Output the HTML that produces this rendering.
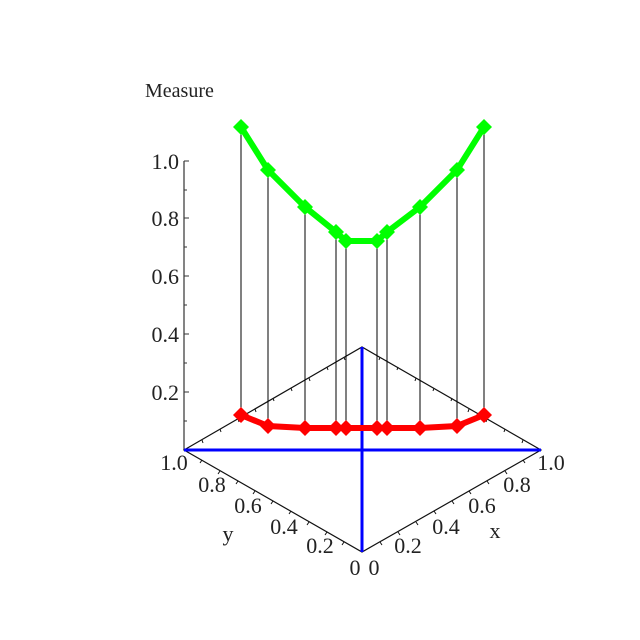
<!DOCTYPE html>
<html><head><style>body{margin:0;background:#fff}svg{display:block}</style></head>
<body>
<svg width="640" height="640" viewBox="0 0 640 640" font-family="'Liberation Serif','Times New Roman',Times,serif" font-size="22" fill="#222">
<line x1="184" y1="161" x2="184" y2="450" stroke="#333" stroke-width="1.2"/>
<g stroke="#333" stroke-width="1">
<line x1="184" y1="161" x2="189" y2="161"/><line x1="184" y1="190" x2="187" y2="190"/>
<line x1="184" y1="218" x2="189" y2="218"/><line x1="184" y1="247" x2="187" y2="247"/>
<line x1="184" y1="276" x2="189" y2="276"/><line x1="184" y1="305" x2="187" y2="305"/>
<line x1="184" y1="334" x2="189" y2="334"/><line x1="184" y1="363" x2="187" y2="363"/>
<line x1="184" y1="392" x2="189" y2="392"/><line x1="184" y1="421" x2="187" y2="421"/>
</g>
<g text-anchor="end" style="font-family:'Liberation Serif',serif">
<text x="179" y="169">1.0</text><text x="179" y="226">0.8</text><text x="179" y="284">0.6</text>
<text x="179" y="342">0.4</text><text x="179" y="400">0.2</text>
</g>
<text x="145" y="97" style="font-family:'Liberation Serif',serif;font-size:20px">Measure</text>
<polygon points="184,450 362,347 541,450 362,552" fill="none" stroke="#111" stroke-width="1.2"/>
<g stroke="#111" stroke-width="1">
<line x1="202" y1="440" x2="203" y2="443"/><line x1="220" y1="429" x2="221" y2="432"/><line x1="238" y1="419" x2="239" y2="422"/><line x1="255" y1="409" x2="256" y2="412"/><line x1="273" y1="398" x2="274" y2="401"/><line x1="291" y1="388" x2="292" y2="391"/><line x1="309" y1="378" x2="310" y2="381"/><line x1="327" y1="367" x2="328" y2="370"/><line x1="344" y1="357" x2="345" y2="360"/>
<line x1="380" y1="357" x2="379" y2="360"/><line x1="398" y1="367" x2="397" y2="370"/><line x1="416" y1="378" x2="415" y2="381"/><line x1="434" y1="388" x2="433" y2="391"/><line x1="452" y1="398" x2="451" y2="401"/><line x1="469" y1="409" x2="468" y2="412"/><line x1="487" y1="419" x2="486" y2="422"/><line x1="505" y1="429" x2="504" y2="432"/><line x1="523" y1="440" x2="522" y2="443"/>
<line x1="202" y1="460" x2="200" y2="463"/><line x1="220" y1="471" x2="218" y2="474"/><line x1="238" y1="481" x2="236" y2="484"/><line x1="255" y1="491" x2="253" y2="494"/><line x1="273" y1="501" x2="271" y2="504"/><line x1="291" y1="511" x2="289" y2="514"/><line x1="309" y1="522" x2="307" y2="525"/><line x1="327" y1="532" x2="325" y2="535"/><line x1="344" y1="542" x2="342" y2="545"/>
<line x1="380" y1="542" x2="382" y2="545"/><line x1="398" y1="532" x2="400" y2="535"/><line x1="416" y1="522" x2="418" y2="525"/><line x1="434" y1="511" x2="436" y2="514"/><line x1="452" y1="501" x2="454" y2="504"/><line x1="469" y1="491" x2="471" y2="494"/><line x1="487" y1="481" x2="489" y2="484"/><line x1="505" y1="471" x2="507" y2="474"/><line x1="523" y1="460" x2="525" y2="463"/>
</g>
<line x1="184" y1="450" x2="541" y2="450" stroke="#0000ff" stroke-width="3"/>
<line x1="362" y1="347" x2="362" y2="552" stroke="#0000ff" stroke-width="3"/>
<g text-anchor="middle" style="font-family:'Liberation Serif',serif">
<text x="174" y="470">1.0</text><text x="212" y="492">0.8</text><text x="248" y="513">0.6</text><text x="284" y="534">0.4</text><text x="320" y="553">0.2</text><text x="355" y="575">0</text>
<text x="374" y="575">0</text><text x="408" y="553">0.2</text><text x="446" y="534">0.4</text><text x="482" y="513">0.6</text><text x="517" y="492">0.8</text><text x="551" y="470">1.0</text>
<text x="228" y="541">y</text><text x="495" y="538">x</text>
</g>
<g stroke="#000" stroke-width="1">
<line x1="241" y1="127" x2="241" y2="415"/><line x1="268" y1="170" x2="268" y2="426"/><line x1="305" y1="207" x2="305" y2="428"/><line x1="336" y1="232" x2="336" y2="428"/><line x1="346" y1="241" x2="346" y2="428"/>
<line x1="377" y1="241" x2="377" y2="428"/><line x1="387" y1="232" x2="387" y2="428"/><line x1="420" y1="207" x2="420" y2="428"/><line x1="457" y1="170" x2="457" y2="426"/><line x1="484" y1="127" x2="484" y2="415"/>
</g>
<defs><path id="d" d="M0,-8 L8,0 L0,8 L-8,0Z"/></defs>
<polyline points="241,127 268,170 305,207 336,232 346,241 377,241 387,232 420,207 457,170 484,127" fill="none" stroke="#00ff00" stroke-width="6" stroke-linejoin="round"/>
<g fill="#00ff00">
<use href="#d" x="241" y="127"/><use href="#d" x="268" y="170"/><use href="#d" x="305" y="207"/><use href="#d" x="336" y="232"/><use href="#d" x="346" y="241"/><use href="#d" x="377" y="241"/><use href="#d" x="387" y="232"/><use href="#d" x="420" y="207"/><use href="#d" x="457" y="170"/><use href="#d" x="484" y="127"/>
</g>
<polyline points="241,415 268,426 305,428 336,428 346,428 377,428 387,428 420,428 457,426 484,415" fill="none" stroke="#ff0000" stroke-width="6" stroke-linejoin="round"/>
<g fill="#ff0000">
<use href="#d" x="241" y="415"/><use href="#d" x="268" y="426"/><use href="#d" x="305" y="428"/><use href="#d" x="336" y="428"/><use href="#d" x="346" y="428"/><use href="#d" x="377" y="428"/><use href="#d" x="387" y="428"/><use href="#d" x="420" y="428"/><use href="#d" x="457" y="426"/><use href="#d" x="484" y="415"/>
</g>
</svg>
</body></html>
